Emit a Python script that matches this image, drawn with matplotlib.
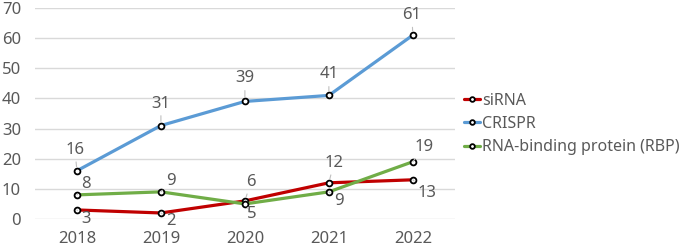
import matplotlib
matplotlib.use("Agg")
import matplotlib.pyplot as plt

years = ["2018", "2019", "2020", "2021", "2022"]
sirna = [3, 2, 6, 12, 13]
crispr = [16, 31, 39, 41, 61]
rbp = [8, 9, 5, 9, 19]

plt.rcParams['font.family'] = ['Noto Sans', 'DejaVu Sans']
txt_col = '#595959'

fig = plt.figure(figsize=(6.85, 2.46), dpi=100)
ax = fig.add_axes([0.051, 0.1098, 0.613, 0.8577])
x = list(range(len(years)))

series = [
    ("siRNA", sirna, '#C00000'),
    ("CRISPR", crispr, '#5B9BD5'),
    ("RNA-binding protein (RBP)", rbp, '#70AD47'),
]
for name, vals, col in series:
    ax.plot(x, vals, color=col, lw=2.3, marker='o', ms=4.2, mfc='white',
            mec='black', mew=1.3, label=name, zorder=3, solid_capstyle='round')

# label offsets in pixels (dx, dy)
offsets = {
    "siRNA": [(9, -9), (10, -8), (6, 19), (5, 20), (14, -13)],
    "CRISPR": [(-2, 21), (0, 22), (0, 23), (0, 21), (-1, 20)],
    "RNA-binding protein (RBP)": [(9, 11), (10, 11), (7, -10), (10, -9), (11, 15)],
}
for name, vals, col in series:
    for i, v in enumerate(vals):
        dx, dy = offsets[name][i]
        ax.annotate(str(v), (x[i], v), xytext=(dx, dy), textcoords='offset pixels',
                    ha='center', va='center', fontsize=12, color=txt_col,
                    arrowprops=dict(arrowstyle='-', color='#bfbfbf', lw=0.8,
                                    shrinkA=1, shrinkB=3),
                    zorder=4)

ax.set_xlim(-0.5, len(years) - 0.5)
ax.set_ylim(0, 70)
ax.set_yticks(range(0, 71, 10))
ax.set_xticks(x)
ax.set_xticklabels(years)
ax.grid(axis='y', color='#d9d9d9', lw=1)
ax.set_axisbelow(True)
for s in ax.spines.values():
    s.set_visible(False)
ax.tick_params(length=0, labelsize=12, colors=txt_col)
ax.tick_params(axis='x', pad=9)
ax.tick_params(axis='y', pad=10)

leg = ax.legend(loc='center left', bbox_to_anchor=(1.022, 0.45), frameon=False,
                fontsize=11.5, handlelength=1.0, handletextpad=0.15, labelspacing=0.45,
                borderaxespad=0, borderpad=0, markerscale=0.8)
for t in leg.get_texts():
    t.set_color(txt_col)

fig.savefig("out.png", dpi=100)
